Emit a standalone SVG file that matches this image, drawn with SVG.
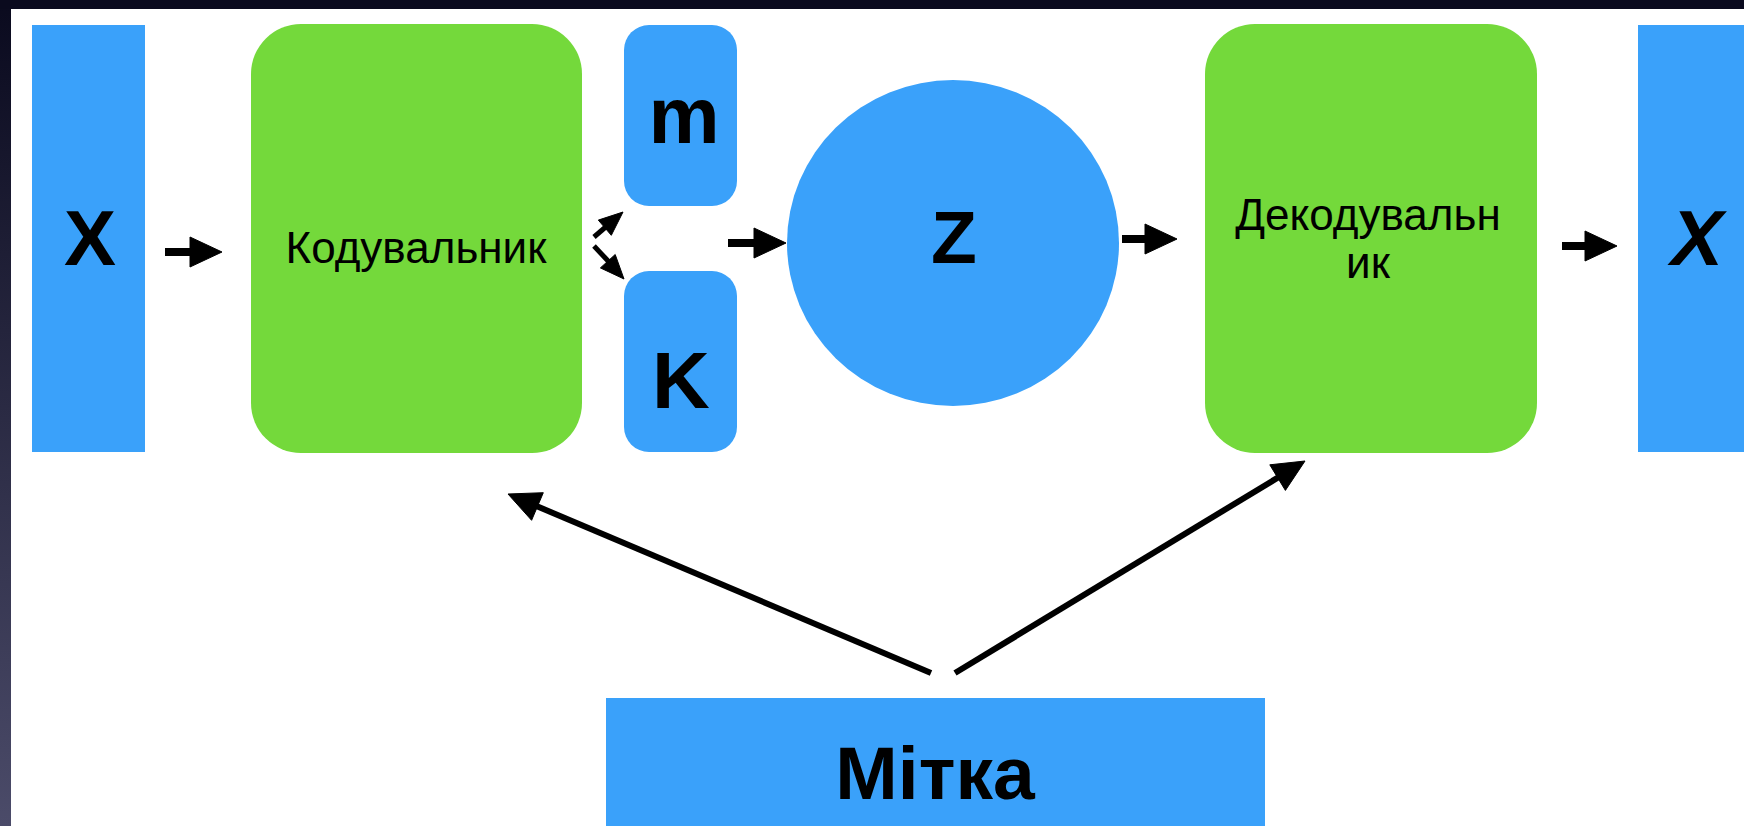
<svg xmlns="http://www.w3.org/2000/svg" width="1744" height="826" viewBox="0 0 1744 826">
  <defs>
    <linearGradient id="frameGrad" x1="0" y1="0" x2="0" y2="1">
      <stop offset="0" stop-color="#0a0a1e"/>
      <stop offset="1" stop-color="#4b4b69"/>
    </linearGradient>
    <style>
      .blue { fill: #3aa1fa; }
      .green { fill: #74d93b; }
      .big { font-family: "Liberation Sans", Arial, sans-serif; font-weight: bold; fill: #000; text-anchor: middle; }
      .lbl { font-family: "Liberation Sans", Arial, sans-serif; font-size: 44px; fill: #000; text-anchor: middle; }
      .shaft { stroke: #000; stroke-linecap: butt; fill: none; }
      .head { fill: #000; stroke: #000; stroke-width: 1; stroke-linejoin: miter; }
    </style>
  </defs>

  <rect x="0" y="0" width="1744" height="826" fill="#ffffff"/>
  <rect x="0" y="0" width="11" height="826" fill="url(#frameGrad)"/>
  <rect x="0" y="0" width="1744" height="9" fill="#0a0a1e"/>

  <g id="input-x">
    <rect class="blue" x="32" y="25" width="113" height="427"/>
    <text class="big" x="90" y="265" font-size="78">X</text>
  </g>

  <g id="encoder">
    <rect class="green" x="251" y="24" width="331" height="429" rx="50" ry="50"/>
    <text class="lbl" x="416" y="263">Кодувальник</text>
  </g>

  <g id="m-node">
    <rect class="blue" x="624" y="25" width="113" height="181" rx="25" ry="25"/>
    <text class="big" x="684" y="143" font-size="80">m</text>
  </g>

  <g id="k-node">
    <rect class="blue" x="624" y="271" width="113" height="181" rx="25" ry="25"/>
    <text class="big" x="681" y="408" font-size="80">K</text>
  </g>

  <g id="z-node">
    <ellipse class="blue" cx="953" cy="243" rx="166" ry="163"/>
    <text class="big" x="954" y="263" font-size="75">Z</text>
  </g>

  <g id="decoder">
    <rect class="green" x="1205" y="24" width="332" height="429" rx="50" ry="50"/>
    <text class="lbl" x="1368" y="230">Декодувальн</text>
    <text class="lbl" x="1368" y="278">ик</text>
  </g>

  <g id="output-x">
    <rect class="blue" x="1638" y="25" width="120" height="427"/>
    <text class="big" x="1697" y="265" font-size="78" font-style="italic">X</text>
  </g>

  <g id="label-node">
    <rect class="blue" x="606" y="698" width="659" height="140"/>
    <text class="big" x="935" y="799" font-size="75">Мітка</text>
  </g>

  <g id="connectors">
    <line class="shaft" x1="165" y1="252" x2="194" y2="252" stroke-width="8"/>
    <polygon class="head" points="190,237 222,252 190,267"/>

    <line class="shaft" x1="594" y1="237" x2="608" y2="225" stroke-width="5"/>
    <polygon class="head" points="611.3,235.3 623,212 598.3,220.1"/>
    <line class="shaft" x1="594" y1="246" x2="610" y2="263" stroke-width="5"/>
    <polygon class="head" points="600.4,267.9 624,279 615.2,254.5"/>

    <line class="shaft" x1="728" y1="243" x2="758" y2="243" stroke-width="8"/>
    <polygon class="head" points="754,228 786,243 754,258"/>

    <line class="shaft" x1="1122" y1="239" x2="1149" y2="239" stroke-width="8"/>
    <polygon class="head" points="1145,224 1177,239 1145,254"/>

    <line class="shaft" x1="1562" y1="246" x2="1589" y2="246" stroke-width="8"/>
    <polygon class="head" points="1585,231 1617,246 1585,261"/>

    <line class="shaft" x1="931" y1="673" x2="530" y2="503.3" stroke-width="6"/>
    <polygon class="head" points="543.3,492.7 508,494 531.6,520.3"/>

    <line class="shaft" x1="955" y1="673" x2="1285" y2="473.3" stroke-width="6"/>
    <polygon class="head" points="1285.4,490.4 1305,461 1269.8,464.8"/>
  </g>
</svg>
